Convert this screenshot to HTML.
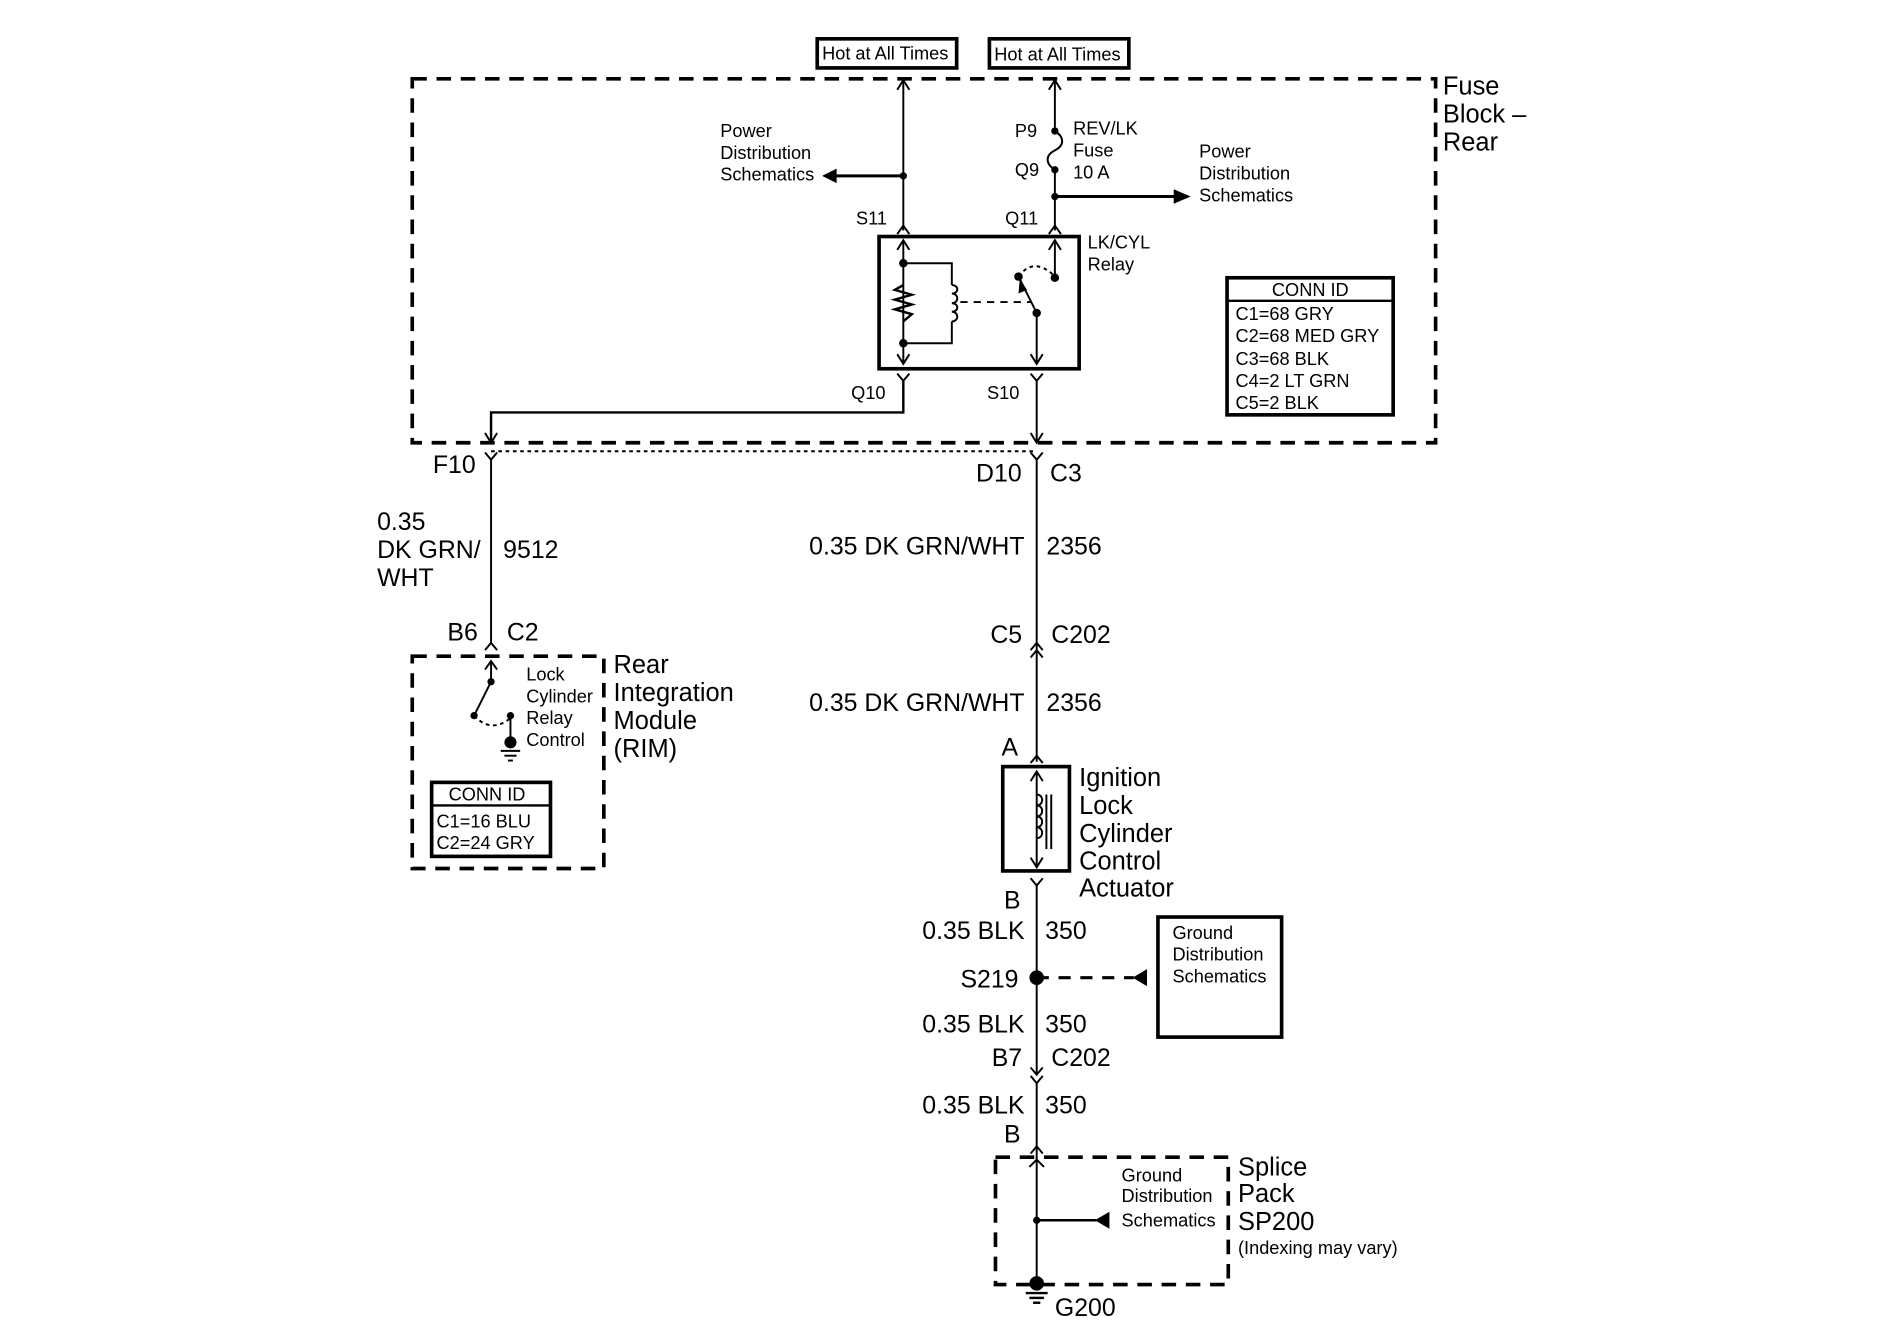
<!DOCTYPE html>
<html><head><meta charset="utf-8"><style>
html,body{margin:0;padding:0;background:#fff}
svg{display:block}
text{font-family:"Liberation Sans",Arial,sans-serif;fill:#000}
.s{font-size:15px}.m{font-size:20.5px}.l{font-size:21px}
</style></head><body>
<svg width="1900" height="1344" viewBox="0 0 1567 1108" preserveAspectRatio="none" xmlns="http://www.w3.org/2000/svg">
<g fill="none" stroke="#000" stroke-width="1.6">
<rect x="674" y="32" width="115" height="24" stroke-width="3"/>
<rect x="816" y="32" width="115" height="24" stroke-width="3"/>
<rect x="340" y="65" width="844" height="300" stroke-width="3" stroke-dasharray="12,8"/>
<line x1="745" y1="66" x2="745" y2="190"/>
<polyline points="740,74 745,66 750,74"/>
<line x1="745" y1="145" x2="688" y2="145" stroke-width="2.5"/>
<polyline points="740,193 745,186 750,193"/>
<line x1="870" y1="66" x2="870" y2="108"/>
<polyline points="865,74 870,66 875,74"/>
<path d="M870,108 C878,113 878,120 870,124 C862,128 862,135 870,140"/>
<line x1="870" y1="140" x2="870" y2="190"/>
<line x1="870" y1="162" x2="970" y2="162" stroke-width="2.5"/>
<polyline points="865,193 870,186 875,193"/>
<rect x="725" y="195" width="165" height="109" stroke-width="3"/>
<line x1="745" y1="198" x2="745" y2="300"/>
<polyline points="740,206 745,198 750,206"/><polyline points="740,292 745,300 750,292"/>
<polyline points="745,217 785,217 785,235"/><polyline points="745,283 785,283 785,265"/>
<polyline points="745,235 738,239 752,243 738,247 752,251 738,255 752,259 745,265" stroke-width="2"/>
<path d="M785,235 c6,0 6,7 0,7 c6,0 6,8 0,8 c6,0 6,7 0,7 c6,0 6,8 0,8"/>
<line x1="792" y1="249" x2="850" y2="249" stroke-dasharray="6,5"/>
<line x1="855" y1="258" x2="841" y2="230"/>
<line x1="855" y1="258" x2="855" y2="300"/>
<polyline points="850,292 855,300 860,292"/>
<path d="M840,228 Q852,212 868,226" stroke-dasharray="3,3"/>
<line x1="870" y1="229" x2="870" y2="198"/>
<polyline points="865,206 870,198 875,206"/>
<polyline points="740,308 745,314 750,308"/><polyline points="850,308 855,314 860,308"/>
<polyline points="745,314 745,340 405,340 405,365" stroke-width="2"/>
<polyline points="400,357 405,365 410,357"/>
<line x1="855" y1="314" x2="855" y2="365"/>
<polyline points="850,357 855,365 860,357"/>
<polyline points="400,373 405,379 410,373"/><polyline points="850,373 855,379 860,373"/>
<line x1="405" y1="372" x2="855" y2="372" stroke-dasharray="3,3"/>
<line x1="405" y1="379" x2="405" y2="530"/>
<polyline points="400,536 405,530 410,536"/>
<line x1="855" y1="379" x2="855" y2="628"/>
<polyline points="850,536 855,530 860,536"/><polyline points="850,542 855,536 860,542"/>
<polyline points="850,629 855,623 860,629"/>
<rect x="340" y="541" width="158" height="175" stroke-width="3" stroke-dasharray="12,8"/>
<line x1="405" y1="545" x2="405" y2="562"/>
<polyline points="400,552 405,545 410,552"/>
<line x1="405" y1="562" x2="391" y2="590"/>
<path d="M391,590 Q405,605 421,592" stroke-dasharray="3,3"/>
<line x1="421" y1="590" x2="421" y2="612"/>
<line x1="413" y1="619" x2="429" y2="619"/><line x1="416" y1="623" x2="426" y2="623"/><line x1="419" y1="627" x2="423" y2="627"/>
<rect x="356" y="645" width="98" height="61" stroke-width="3"/>
<line x1="356" y1="664" x2="454" y2="664" stroke-width="2"/>
<rect x="1012" y="229" width="137" height="113" stroke-width="3"/>
<line x1="1012" y1="248" x2="1149" y2="248" stroke-width="2"/>
<rect x="827" y="632" width="55" height="86" stroke-width="3"/>
<line x1="855" y1="636" x2="855" y2="715"/>
<polyline points="850,644 855,636 860,644"/><polyline points="850,707 855,715 860,707"/>
<path d="M855,655 c6,0 6,9 0,9 c6,0 6,9 0,9 c6,0 6,9 0,9 c6,0 6,9 0,9"/>
<line x1="863" y1="655" x2="863" y2="700"/><line x1="867" y1="655" x2="867" y2="700"/>
<polyline points="850,724 855,730 860,724"/>
<line x1="855" y1="730" x2="855" y2="885"/>
<line x1="855" y1="806" x2="935" y2="806" stroke-width="2.5" stroke-dasharray="10,8"/>
<rect x="955" y="756" width="102" height="99" stroke-width="3"/>
<polyline points="850,880 855,886 860,880"/><polyline points="850,887 855,893 860,887"/>
<line x1="855" y1="893" x2="855" y2="1058"/>
<polyline points="850,951 855,945 860,951"/>
<rect x="821" y="954" width="192" height="105" stroke-width="3" stroke-dasharray="12,8"/>
<polyline points="849,962 855,956 861,962"/>
<line x1="855" y1="1006" x2="905" y2="1006" stroke-width="2"/>
<line x1="846" y1="1066" x2="864" y2="1066" stroke-width="2"/><line x1="849" y1="1070" x2="861" y2="1070" stroke-width="2"/><line x1="852" y1="1074" x2="858" y2="1074" stroke-width="2"/>
</g>
<g fill="#000">
<circle cx="745" cy="145" r="3"/><polygon points="678,145 690,139 690,151"/>
<circle cx="870" cy="108" r="3"/><circle cx="870" cy="140" r="3"/><circle cx="870" cy="162" r="3"/>
<polygon points="982,162 968,156 968,168"/>
<circle cx="745" cy="217" r="3.5"/><circle cx="745" cy="283" r="3.5"/>
<circle cx="855" cy="258" r="3.5"/><circle cx="840" cy="228" r="3.5"/><circle cx="870" cy="229" r="3.5"/>
<polygon points="841,230 840,242 847,239"/>
<circle cx="405" cy="562" r="3"/><circle cx="391" cy="590" r="3"/><circle cx="421" cy="590" r="3"/><circle cx="421" cy="612" r="5"/>
<circle cx="855" cy="806" r="6"/><polygon points="934,806 946,799 946,813"/>
<circle cx="855" cy="1006" r="3"/><polygon points="903,1006 915,999 915,1013"/>
<circle cx="855" cy="1058" r="6"/>
</g>
<text class="s" x="678" y="49">Hot at All Times</text>
<text class="s" x="820" y="50">Hot at All Times</text>
<text class="l" x="1190" y="78">Fuse</text><text class="l" x="1190" y="101">Block –</text><text class="l" x="1190" y="124">Rear</text>
<text class="s" x="594" y="113">Power</text><text class="s" x="594" y="131">Distribution</text><text class="s" x="594" y="149">Schematics</text>
<text class="s" x="885" y="111">REV/LK</text><text class="s" x="885" y="129">Fuse</text><text class="s" x="885" y="147">10 A</text>
<text class="s" x="837" y="113">P9</text><text class="s" x="837" y="145">Q9</text>
<text class="s" x="989" y="130">Power</text><text class="s" x="989" y="148">Distribution</text><text class="s" x="989" y="166">Schematics</text>
<text class="s" x="706" y="185">S11</text><text class="s" x="829" y="185">Q11</text>
<text class="s" x="897" y="205">LK/CYL</text><text class="s" x="897" y="223">Relay</text>
<text class="s" x="702" y="329">Q10</text><text class="s" x="814" y="329">S10</text>
<text class="s" x="1049" y="244">CONN ID</text>
<text class="s" x="1019" y="264">C1=68 GRY</text><text class="s" x="1019" y="282">C2=68 MED GRY</text><text class="s" x="1019" y="301">C3=68 BLK</text><text class="s" x="1019" y="319">C4=2 LT GRN</text><text class="s" x="1019" y="337">C5=2 BLK</text>
<text class="m" x="357" y="390">F10</text>
<text class="m" x="805" y="397">D10</text><text class="m" x="866" y="397">C3</text>
<text class="m" x="311" y="437">0.35</text><text class="m" x="311" y="460">DK GRN/</text><text class="m" x="311" y="483">WHT</text>
<text class="m" x="415" y="460">9512</text>
<text class="m" x="369" y="528">B6</text><text class="m" x="418" y="528">C2</text>
<text class="m" x="845" y="457" text-anchor="end">0.35 DK GRN/WHT</text><text class="m" x="863" y="457">2356</text>
<text class="m" x="843" y="530" text-anchor="end">C5</text><text class="m" x="867" y="530">C202</text>
<text class="m" x="845" y="586" text-anchor="end">0.35 DK GRN/WHT</text><text class="m" x="863" y="586">2356</text>
<text class="m" x="826" y="623">A</text>
<text class="l" x="506" y="555">Rear</text><text class="l" x="506" y="578">Integration</text><text class="l" x="506" y="601">Module</text><text class="l" x="506" y="624">(RIM)</text>
<text class="s" x="434" y="561">Lock</text><text class="s" x="434" y="579">Cylinder</text><text class="s" x="434" y="597">Relay</text><text class="s" x="434" y="615">Control</text>
<text class="s" x="370" y="660">CONN ID</text><text class="s" x="360" y="682">C1=16 BLU</text><text class="s" x="360" y="700">C2=24 GRY</text>
<text class="l" x="890" y="648">Ignition</text><text class="l" x="890" y="671">Lock</text><text class="l" x="890" y="694">Cylinder</text><text class="l" x="890" y="717">Control</text><text class="l" x="890" y="739">Actuator</text>
<text class="m" x="828" y="749">B</text>
<text class="m" x="845" y="774" text-anchor="end">0.35 BLK</text><text class="m" x="862" y="774">350</text>
<text class="m" x="840" y="814" text-anchor="end">S219</text>
<text class="s" x="967" y="774">Ground</text><text class="s" x="967" y="792">Distribution</text><text class="s" x="967" y="810">Schematics</text>
<text class="m" x="845" y="851" text-anchor="end">0.35 BLK</text><text class="m" x="862" y="851">350</text>
<text class="m" x="843" y="879" text-anchor="end">B7</text><text class="m" x="867" y="879">C202</text>
<text class="m" x="845" y="918" text-anchor="end">0.35 BLK</text><text class="m" x="862" y="918">350</text>
<text class="m" x="828" y="942">B</text>
<text class="l" x="1021" y="969">Splice</text><text class="l" x="1021" y="991">Pack</text><text class="l" x="1021" y="1014">SP200</text>
<text class="s" x="1021" y="1034">(Indexing may vary)</text>
<text class="s" x="925" y="974">Ground</text><text class="s" x="925" y="991">Distribution</text><text class="s" x="925" y="1011">Schematics</text>
<text class="m" x="870" y="1085">G200</text>
</svg>
</body></html>
